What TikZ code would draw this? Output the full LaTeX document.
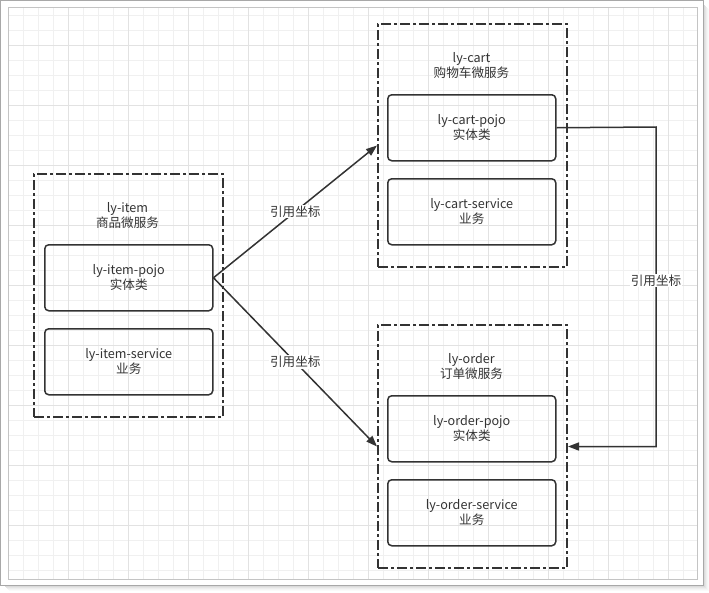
\documentclass[tikz,border=0pt]{standalone}
\usepackage{fontspec}
\setmainfont{Noto Sans CJK SC}
\usetikzlibrary{arrows.meta}
\definecolor{ink}{HTML}{333333}
\definecolor{gridminor}{HTML}{F0F0F0}
\definecolor{gridmajor}{HTML}{E2E2E2}
\definecolor{frameout}{HTML}{A8A8A8}
\definecolor{framein}{HTML}{C4C4C4}
\tikzset{
  container/.style={draw=ink, line width=2pt, dash pattern=on 10pt off 3pt on 3pt off 3pt,
    rectangle, anchor=north west, minimum width=189pt, minimum height=243pt, inner sep=0pt},
  module/.style={draw=ink, line width=1.5pt, rounded corners=4pt, rectangle, anchor=north west,
    minimum width=168pt, minimum height=66pt, inner sep=0pt, align=center, text=ink,
    font=\fontsize{12.6}{15}\selectfont},
  clabel/.style={align=center, text=ink, inner sep=0pt, font=\fontsize{12.6}{15}\selectfont},
  arr/.style={draw=ink, line width=1.5pt, -{Triangle[length=11pt,width=8pt]}},
  alabel/.style={fill=white, text=ink, inner sep=1pt, font=\fontsize{12.6}{15}\selectfont},
}
\begin{document}
\begin{tikzpicture}[x=1pt,y=-1pt]
\useasboundingbox (0,0) rectangle (709,592);
% frame shadow
\foreach \i/\o in {1/0.35,2/0.25,3/0.17,4/0.10,5/0.05}{
  \draw[black!40, opacity=\o, line width=1pt] (703+\i,4+\i) -- (703+\i,585+\i) -- (4+\i,585+\i);
}
\draw[frameout, line width=1pt, fill=white] (0.5,0.5) rectangle (703,585);
% grid
\begin{scope}
\clip (8,7) rectangle (697,579);
\foreach \x in {23,38,...,697}{\draw[gridminor, line width=1pt] (\x,7) -- (\x,579);}
\foreach \y in {15,30,...,579}{\draw[gridminor, line width=1pt] (8,\y) -- (697,\y);}
\foreach \x in {68,128,...,697}{\draw[gridmajor, line width=1pt] (\x,7) -- (\x,579);}
\foreach \y in {45,105,...,579}{\draw[gridmajor, line width=1pt] (8,\y) -- (697,\y);}
\end{scope}
\draw[framein, line width=1pt] (8,7) rectangle (697,579);

% containers
\node[container] (itemc) at (33,173) {};
\node[container] (cartc) at (377,23) {};
\node[container] (orderc) at (377,324) {};

\node[clabel] (iteml) at (127.5,215.5) {ly-item\\商品微服务};
\node[clabel] (cartl) at (471.5,65) {ly-cart\\购物车微服务};
\node[clabel] (orderl) at (471.5,366) {ly-order\\订单微服务};

% modules
\node[module] (itempojo) at (44,244) {ly-item-pojo\\实体类};
\node[module] (itemsvc) at (44,328) {ly-item-service\\业务};
\node[module] (cartpojo) at (387,94) {ly-cart-pojo\\实体类};
\node[module] (cartsvc) at (387,178) {ly-cart-service\\业务};
\node[module] (orderpojo) at (387,395) {ly-order-pojo\\实体类};
\node[module] (ordersvc) at (387,479) {ly-order-service\\业务};

% connectors
\draw[arr] (itempojo.east) -- (cartc.west) node[alabel, midway] (l1) {引用坐标};
\draw[arr] (itempojo.east) -- (orderc.west) node[alabel, midway] (l2) {引用坐标};
\coordinate (turn) at (656,127);
\draw[arr] (cartpojo.east) -- (turn) |- (orderc.east) node[alabel, pos=0.24] (l3) {引用坐标};
\end{tikzpicture}
\end{document}
